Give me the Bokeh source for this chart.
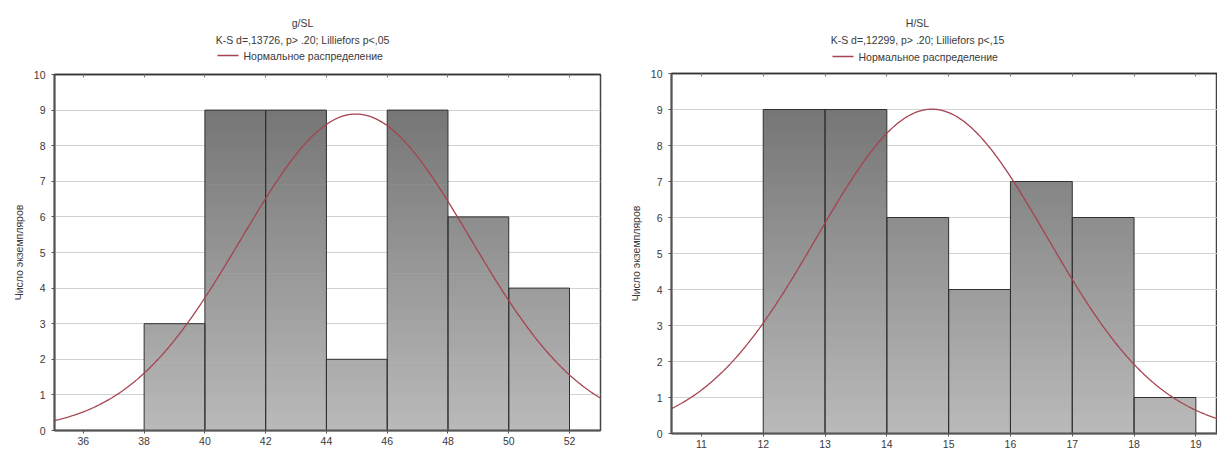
import numpy as np
from bokeh.plotting import figure
from bokeh.models import LinearAxis, Range1d, FixedTicker
from bokeh.layouts import row, column
from bokeh.embed import file_html
from bokeh.resources import INLINE
from bokeh.core.properties import value

# ---------------- data ----------------
g_edges = [38, 40, 42, 44, 46, 48, 50, 52]
g_counts = [3, 9, 9, 2, 9, 6, 4]
g_mean = 44.97
g_sd = 3.77
g_title = "g/SL"
g_stats = "K-S d=,13726, p> .20; Lilliefors p<,05"
g_xticks = [36, 38, 40, 42, 44, 46, 48, 50, 52]

h_edges = [12, 13, 14, 15, 16, 17, 18, 19]
h_counts = [9, 9, 6, 4, 7, 6, 1]
h_mean = 14.73
h_sd = 1.86
h_title = "H/SL"
h_stats = "K-S d=,12299, p> .20; Lilliefors p<,15"
h_xticks = [11, 12, 13, 14, 15, 16, 17, 18, 19]

y_ticks = [0, 1, 2, 3, 4, 5, 6, 7, 8, 9, 10]
legend_text = "Нормальное распределение"
y_label_text = "Число экземпляров"

FONT = "Liberation Sans"
TXT = "#3a3a3a"
CURVE = "#a6434f"
KEY_W = 21


def shade(y):
    t = min(max(y / 9.0, 0.0), 1.0)
    v = int(round(186 - (186 - 118) * t))
    return "#%02x%02x%02x" % (v, v, v)


def make_hist(edges, counts, mean, sd, xr, xticks, width, height, bl, br, bt, bb,
              title, stats, title_cx, head_h, title_ys, leg_x):
    # header with titles and legend (frame aligned with the histogram's frame)
    hd = figure(width=width, height=head_h, x_range=Range1d(-bl, width - bl),
                y_range=Range1d(0, head_h), output_backend="svg",
                toolbar_location=None, min_border_left=bl, min_border_right=br,
                min_border_top=0, min_border_bottom=0)
    hd.x_range = Range1d(0, width - bl - br)
    hd.axis.visible = False
    hd.grid.grid_line_color = None
    hd.outline_line_color = None
    cx = title_cx - bl
    lx = leg_x - bl
    hd.text(x=[cx, cx], y=[head_h - title_ys[0], head_h - title_ys[1]],
            text=[title, stats], text_align="center", text_baseline="middle",
            text_font=value(FONT), text_font_size="10.5px", text_color=TXT)
    ly = head_h - title_ys[2]
    hd.line(x=[lx, lx + KEY_W], y=[ly, ly], line_color=CURVE, line_width=1.3)
    hd.text(x=[lx + KEY_W + 5], y=[ly], text=[legend_text], text_align="left",
            text_baseline="middle", text_font=value(FONT), text_font_size="10.5px",
            text_color=TXT)

    p = figure(width=width, height=height, x_range=Range1d(*xr), y_range=Range1d(0, 10),
               output_backend="svg", toolbar_location=None,
               min_border_left=bl, min_border_right=br, min_border_top=bt,
               min_border_bottom=bb)
    p.background_fill_color = "white"
    p.border_fill_color = "white"
    p.outline_line_color = "#444444"
    p.outline_line_width = 1.5
    p.xgrid.grid_line_color = None
    p.ygrid.grid_line_color = "#d2d2d2"
    p.ygrid.grid_line_width = 1
    p.ygrid.ticker = FixedTicker(ticks=y_ticks)

    # gradient bars built as thin strips
    lefts, rights, bots, tops, cols = [], [], [], [], []
    dy = 0.1
    for i, c in enumerate(counts):
        n = int(round(c / dy))
        for k in range(n):
            y0 = k * dy
            y1 = min((k + 1) * dy + 0.02, c)
            lefts.append(edges[i]); rights.append(edges[i + 1])
            bots.append(y0); tops.append(y1); cols.append(shade(y0 + dy / 2))
    p.quad(left=lefts, right=rights, bottom=bots, top=tops, fill_color=cols,
           line_color=None)
    p.quad(left=edges[:-1], right=edges[1:], bottom=0, top=counts,
           fill_color=None, line_color="#303030", line_width=1)

    # normal curve
    bw = edges[1] - edges[0]
    n_total = sum(counts)
    xs = np.linspace(xr[0], xr[1], 400)
    ys = n_total * bw * np.exp(-0.5 * ((xs - mean) / sd) ** 2) / (sd * np.sqrt(2 * np.pi))
    p.line(xs, ys, line_color=CURVE, line_width=1.3)

    # axes
    for ax in (p.xaxis[0], p.yaxis[0]):
        ax.axis_line_color = "#555555"
        ax.axis_line_width = 2
        ax.major_tick_line_color = "#555555"
        ax.major_tick_out = 3
        ax.major_tick_in = 0
        ax.minor_tick_line_color = None
        ax.major_label_text_font = FONT
        ax.major_label_text_font_size = "10.5px"
        ax.major_label_text_color = TXT
    p.xaxis[0].ticker = FixedTicker(ticks=xticks)
    p.yaxis[0].ticker = FixedTicker(ticks=y_ticks)
    p.xaxis[0].major_label_standoff = 3
    p.yaxis[0].major_label_standoff = 6
    p.yaxis[0].axis_label = y_label_text
    p.yaxis[0].axis_label_text_font = FONT
    p.yaxis[0].axis_label_text_font_size = "10.5px"
    p.yaxis[0].axis_label_text_font_style = "normal"
    p.yaxis[0].axis_label_text_color = TXT
    p.yaxis[0].axis_label_standoff = 6

    top = LinearAxis(ticker=FixedTicker(ticks=xticks))
    top.axis_line_color = "#333333"
    top.axis_line_width = 1.5
    top.major_tick_in = 3
    top.major_tick_out = 0
    top.major_tick_line_color = "#777777"
    top.minor_tick_line_color = None
    top.major_label_overrides = {t: "" for t in xticks}
    top.major_label_standoff = 0
    p.add_layout(top, "above")
    return column(hd, p, spacing=0)


c1 = make_hist(g_edges, g_counts, g_mean, g_sd, (35.05, 53.02), g_xticks,
               610, 384, 54, 10, 8, 20, g_title, g_stats, 302, 66,
               (22, 39, 55), 217)
c2 = make_hist(h_edges, h_counts, h_mean, h_sd, (10.516, 19.35), h_xticks,
               607, 385, 61, 0, 8, 17, h_title, h_stats, 917 - 610, 65,
               (22, 39, 56), 832 - 610)

layout = row(c1, c2, spacing=0)
open("out.html", "w").write(file_html(layout, INLINE))
